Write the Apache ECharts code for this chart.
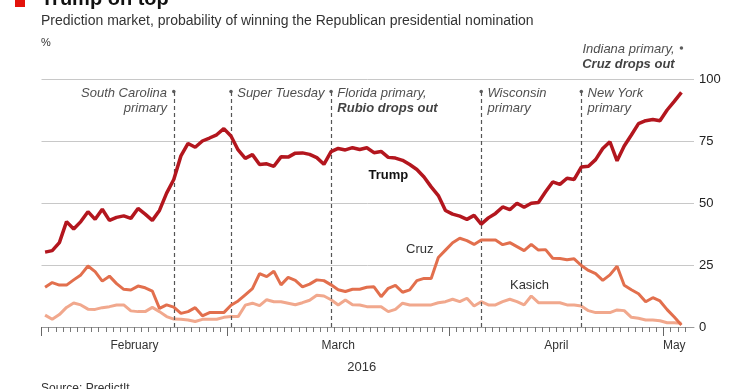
<!DOCTYPE html>
<html>
<head>
<meta charset="utf-8">
<script src="https://cdn.jsdelivr.net/npm/echarts@6/dist/echarts.min.js"></script>
<style>
html,body{margin:0;padding:0;background:#fff;}
#chart{width:740px;height:389px;}
</style>
</head>
<body>
<div id="chart"></div>
<script>
// ---- data ----
const startDate = '2016-02-04';
const axisTickEnd = '2016-05-04';
const trump = [30.2,30.8,34,42.5,39.5,42.5,46.5,43.4,47.5,43,44.2,44.8,43.8,47.8,45.5,43,47,54,59.5,69,
  74,72.5,75,76.2,77.5,80,77,71.4,68,69.5,65.5,65.8,64.8,68.6,68.5,70.1,70.2,69.6,68.3,65.6,
  70.7,72,71.4,72.3,71.6,72.3,70.3,70.8,68.4,68.1,67.2,65.5,63.5,60.5,56.5,53,47,45.5,44.7,43.4,
  45,41.5,44,45.8,48.4,47.3,49.9,48.3,49.9,50.2,54.5,58.5,57.5,60,59.5,64.5,64.8,67.5,72,74.7,
  67,73,77.4,82,83.2,83.7,83.2,87.5,91,94.6];
const cruz = [16,17.9,16.9,16.9,19,21,24.6,22.3,18.5,20.5,17.5,15.2,14.9,16.5,15.8,14.5,7.5,8.9,8,5.5,
  6.2,7.8,4.5,5.8,5.8,5.8,8.8,10.5,13,15.5,21.5,20.3,22.5,17,20,18.8,16.2,17.3,19,18.7,
  17,15,14.3,15.2,15.2,16,16.2,12.2,15.6,16.8,14,15,18.7,19.6,19.6,28,31,34,35.8,34.8,
  33.3,35.1,35.1,35.1,33.2,34,32.4,30.8,33.3,31,31.2,27.7,27.6,27.1,27.5,24.8,22.8,21.5,18.8,21,
  24.5,16.8,15,13.4,10.2,11.8,10.5,7,4,0.8];
const kasich = [4.8,3.1,5,7.9,9.7,8.9,7.2,7.1,7.8,8.2,8.9,8.9,6.5,6.2,6.2,7.9,6.2,4.2,3.2,3.1,
  2.8,2.2,3.1,3.1,3.1,3.9,4.2,4.2,8.8,9.6,8.6,11,10.2,10.2,9.6,9,9.8,10.8,12.8,12.5,
  11,8.9,10.9,9,8.9,8.2,8.2,8.2,6.2,7.1,9.6,8.9,8.9,8.9,8.9,9.8,10.2,11.2,10.2,11.6,
  8.5,10.2,8.9,8.9,10.2,11.2,10.2,8.9,12.5,9.8,9.8,9.8,9.8,8.9,8.9,8.5,6.6,5.8,5.8,5.8,
  6.9,6.6,3.9,3.5,2.8,2.8,2.5,1.7,1.7,1.5];
const seriesNames = ['Trump','Cruz','Kasich'];
const monthNames = ['February','March','April','May'];
const monthStarts = ['2016-02-01','2016-03-01','2016-04-01','2016-05-01'];
const yTicks = [0,25,50,75,100];
const eventDates = ['2016-02-22','2016-03-01','2016-03-15','2016-04-05','2016-04-19','2016-05-03'];
const eventLine1 = ['South Carolina','Super Tuesday','Florida primary,','Wisconsin','New York','Indiana primary,'];
const eventLine2 = ['primary','','Rubio drops out','primary','primary','Cruz drops out'];
const eventBold2 = [false,false,true,false,false,true];
const eventSide = ['left','right','right','right','right','left'];
const eventTop = [95,95,95,95,95,112.5];

// ---- helpers ----
const DAY = 86400000;
const t0 = Date.parse(startDate + 'T00:00:00Z');
const dayOf = s => Math.round((Date.parse(s + 'T00:00:00Z') - t0) / DAY);
const tickEnd = dayOf(axisTickEnd);
const xMax = 91.26;
const daily = [];
for (let d = 0; d <= tickEnd; d++) daily.push(d);
const monthBounds = monthStarts.map(s => Math.max(0, dayOf(s)));
const majorTicks = monthBounds.slice();
const monthCenters = monthBounds.map((b, i) => (b + (i + 1 < monthBounds.length ? monthBounds[i + 1] : tickEnd)) / 2);
const toXY = arr => arr.map((v, i) => [i + 0.5, v]);
const eventX = eventDates.map(s => dayOf(s) + 0.5);

const FONT = '"Liberation Sans", Arial, sans-serif';

const chart = echarts.init(document.getElementById('chart'), null, {renderer: 'canvas'});

function nameMark(name, x, y, bold) {
  return {
    symbol: 'circle', symbolSize: 1, silent: true, itemStyle: {color: 'rgba(0,0,0,0)'},
    label: {show: true, position: 'inside', formatter: name, color: bold ? '#111' : '#333',
      fontFamily: FONT, fontSize: 13, fontWeight: bold ? 'bold' : 'normal'},
    data: [{name: name, coord: [x, y]}]
  };
}

const eventData = eventX.map((x, i) => {
  const txt = '{i|' + eventLine1[i] + '}' + (eventLine2[i] ? '\n{' + (eventBold2[i] ? 'b' : 'i') + '|' + eventLine2[i] + '}' : '');
  const left = eventSide[i] === 'left';
  return {
    value: [x, eventTop[i]],
    label: {show: true, formatter: txt, position: left ? [-5, -4] : [8, -4], align: left ? 'right' : 'left', verticalAlign: 'top'}
  };
});

const option = {
  animation: false,
  backgroundColor: '#fff',
  grid: {left: 41.5, right: 46, top: 79, bottom: 62},
  xAxis: [{
    type: 'value', min: 0, max: xMax, position: 'bottom',
    axisLine: {show: true, lineStyle: {color: '#999', width: 1}},
    axisTick: {show: true, customValues: daily, length: 5, lineStyle: {color: '#777'}},
    axisLabel: {show: true, customValues: monthCenters, margin: 13, color: '#333', fontFamily: FONT, fontSize: 12,
      formatter: v => { const k = monthCenters.indexOf(v); return k >= 0 ? monthNames[k] : ''; }},
    splitLine: {show: false},
    name: '2016', nameLocation: 'middle', nameGap: 34,
    nameTextStyle: {color: '#333', fontFamily: FONT, fontSize: 13, padding: [0, 12, 0, 0]}
  }, {
    type: 'value', min: 0, max: xMax, position: 'bottom',
    axisLine: {show: false},
    axisTick: {show: true, customValues: majorTicks, length: 9, lineStyle: {color: '#666'}},
    axisLabel: {show: false},
    splitLine: {show: false}
  }],
  yAxis: {
    type: 'value', min: yTicks[0], max: yTicks[yTicks.length - 1], interval: yTicks[1] - yTicks[0], position: 'right',
    axisLine: {show: false}, axisTick: {show: false},
    axisLabel: {margin: 5, color: '#222', fontFamily: FONT, fontSize: 13},
    splitLine: {show: true, lineStyle: {color: '#c8c8c8', width: 1}}
  },
  series: [{
    name: 'events', type: 'scatter', clip: false, silent: true, z: 3,
    symbol: 'circle', symbolSize: 3.5, itemStyle: {color: '#333'},
    label: {color: '#222', fontFamily: FONT, fontSize: 13, lineHeight: 15,
      rich: {i: {fontStyle: 'italic', fontFamily: FONT, fontSize: 13, lineHeight: 15, color: '#222'},
             b: {fontStyle: 'italic', fontWeight: 'bold', fontFamily: FONT, fontSize: 13, lineHeight: 15, color: '#111'}}},
    data: eventData,
    markLine: {
      silent: true, symbol: 'none', animation: false,
      lineStyle: {type: [4, 3], color: '#555', width: 1.2},
      label: {show: false},
      data: eventX.map((x, i) => [{coord: [x, 0]}, {coord: [x, eventTop[i]]}])
    }
  }, {
    name: seriesNames[2], type: 'line', data: toXY(kasich), showSymbol: false, z: 4,
    lineStyle: {color: '#f1a88d', width: 3}, itemStyle: {color: '#f1a88d'},
    markPoint: nameMark(seriesNames[2], 68.25, 16.9, false)
  }, {
    name: seriesNames[1], type: 'line', data: toXY(cruz), showSymbol: false, z: 5,
    lineStyle: {color: '#e26f4d', width: 3}, itemStyle: {color: '#e26f4d'},
    markPoint: nameMark(seriesNames[1], 52.9, 31.3, false)
  }, {
    name: seriesNames[0], type: 'line', data: toXY(trump), showSymbol: false, z: 6,
    lineStyle: {color: '#b3161e', width: 3.5}, itemStyle: {color: '#b3161e'},
    markPoint: nameMark(seriesNames[0], 48.5, 61.3, true)
  }],
  graphic: [
    {type: 'rect', left: 15, top: -2, shape: {width: 10, height: 9}, style: {fill: '#e3120b'}},
    {type: 'text', left: 41, top: -11, style: {text: 'Trump on top', fill: '#111', font: 'bold 20px ' + FONT}},
    {type: 'text', left: 41, top: 14, style: {text: 'Prediction market, probability of winning the Republican presidential nomination', fill: '#333', font: '14px ' + FONT}},
    {type: 'text', left: 41, top: 37, style: {text: '%', fill: '#333', font: '11px ' + FONT}},
    {type: 'text', left: 41, top: 383, style: {text: 'Source: PredictIt', fill: '#333', font: '12px ' + FONT}}
  ]
};
chart.setOption(option);
</script>
</body>
</html>
